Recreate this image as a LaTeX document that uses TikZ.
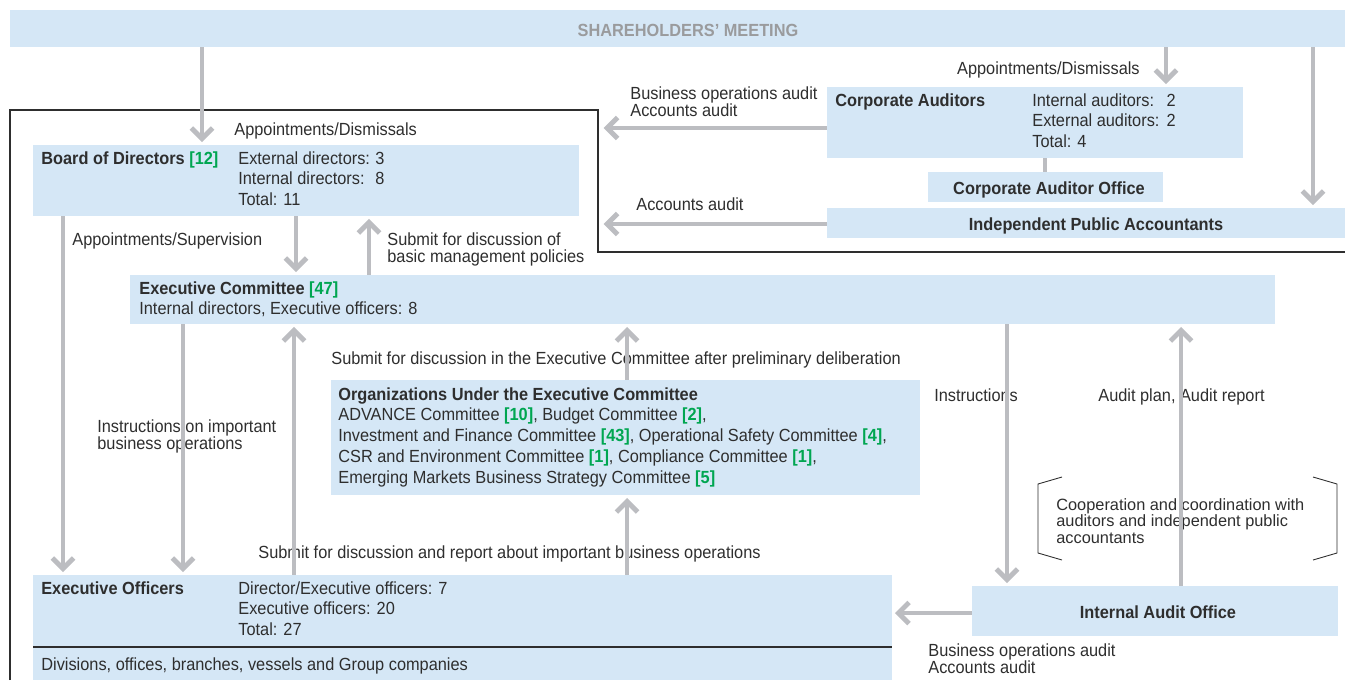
\documentclass[tikz,border=0pt]{standalone}
\usepackage{fontspec}
\usepackage{xcolor}
\setmainfont{Liberation Sans}[FakeStretch = 0.93]
\newfontfamily\plainsans{Liberation Sans}
\usetikzlibrary{arrows.meta}
\usetikzlibrary{fit}
\definecolor{panelblue}{HTML}{D5E7F6}
\definecolor{flowgray}{HTML}{BCBDC1}
\definecolor{inkgray}{HTML}{2E2E2E}
\definecolor{seatgreen}{HTML}{00A651}
\definecolor{headgray}{HTML}{9A9B9D}
\newcommand{\seats}[1]{\textcolor{seatgreen}{\textbf{[#1]}}}
\newcommand{\textlines}[1]{\begin{tabular}[t]{@{}l@{}}#1\end{tabular}}
\tikzset{
panel/.style = {fill = panelblue, draw = none, inner sep = 0pt},
boxtext/.style = {anchor = base west, inner sep = 0pt, text = inkgray, font = \fontsize{10pt}{11.9pt}\selectfont},
flowtext/.style = {boxtext, font = \fontsize{10pt}{9.6pt}\selectfont},
boxtitle/.style = {boxtext, font = \fontsize{10pt}{11.9pt}\selectfont\bfseries},
notetext/.style = {boxtext, font = \plainsans\fontsize{9.3pt}{9.6pt}\selectfont},
flowarrow/.style = {draw = flowgray, line width = 2.8pt, -{Straight Barb[length = 6pt, width = 12pt]}, shorten > = 1.5pt},
flowlink/.style = {draw = flowgray, line width = 2.8pt},
outline/.style = {draw = inkgray, line width = 0.6pt},
bracket/.style = {draw = inkgray, line width = 0.5pt},
}

\begin{document}
\begin{tikzpicture}[x = 0.02cm, y = -0.02cm]
    \useasboundingbox (0, 0) rectangle (1345, 680);
    % boxes
    \node[panel, fit = {(10, 10) (1345, 47)}] (meeting) {};
    \node[panel, fit = {(33, 145) (579, 216)}] (board) {};
    \node[panel, fit = {(827, 87) (1243, 158)}] (auditors) {};
    \node[panel, fit = {(928, 172) (1163, 202)}] (auditoroffice) {};
    \node[panel, fit = {(827, 208) (1345, 238)}] (accountants) {};
    \node[panel, fit = {(130, 275) (1275, 324)}] (excom) {};
    \node[panel, fit = {(331, 380) (920, 495)}] (orgs) {};
    \node[panel, fit = {(33, 575) (892, 680)}] (officers) {};
    \node[panel, fit = {(972, 586) (1338, 636)}] (internalaudit) {};
    \draw[outline] (10, 680) -- (10, 110) -- (598, 110) -- (598, 252) -- (1345, 252);
    \draw[outline] (33, 647) -- (892, 647);
    \draw[bracket] (1062, 477) -- (1038, 484) -- (1038, 553) -- (1062, 560);
    \draw[bracket] (1313, 477) -- (1337, 484) -- (1337, 553) -- (1313, 560);

    % texts in boxes
    \node[boxtitle, anchor = base, text = headgray] (meetingtitle) at (688, 36) {SHAREHOLDERS’ MEETING};
    \node[boxtitle] (boardtitle) at (41, 164) {Board of Directors \seats{12}};
    \node[boxtext] (boardseats) at (238, 164) {\begin{tabular}[t]{@{}l@{\hspace{3pt}}l@{}}
        External directors: & 3\\ Internal directors: & 8\\ \multicolumn{2}{@{}l}{Total: 11}\end{tabular}};
    \node[boxtitle] (auditorstitle) at (835, 106) {Corporate Auditors};
    \node[boxtext] (auditorsseats) at (1032, 106) {\begin{tabular}[t]{@{}l@{\hspace{4pt}}l@{}}
        Internal auditors: & 2\\ External auditors: & 2\\ \multicolumn{2}{@{}l}{Total: 4}\end{tabular}};
    \node[boxtitle, anchor = base] (officetitle) at (1049, 194) {Corporate Auditor Office};
    \node[boxtitle, anchor = base] (accountantstitle) at (1096, 230) {Independent Public Accountants};
    \node[boxtext] (excomtitle) at (139, 294) {\textlines{\textbf{Executive Committee \seats{47}}\\Internal directors, Executive officers: 8}};
    \node[boxtext] (orgslist) at (338, 400) {\textlines{\textbf{Organizations Under the Executive Committee}\\
        ADVANCE Committee \seats{10}, Budget Committee \seats{2},\\
        Investment and Finance Committee \seats{43}, Operational Safety Committee \seats{4},\\
        CSR and Environment Committee \seats{1}, Compliance Committee \seats{1},\\
        Emerging Markets Business Strategy Committee \seats{5}}};
    \node[boxtitle] (officerstitle) at (41, 594) {Executive Officers};
    \node[boxtext] (officersseats) at (238, 594) {\textlines{Director/Executive officers: 7\\Executive officers: 20\\Total: 27}};
    \node[boxtext] (divisions) at (41, 670) {Divisions, offices, branches, vessels and Group companies};
    \node[boxtitle, anchor = base] (audittitle) at (1158, 618) {Internal Audit Office};

    % texts on the flows
    \node[flowtext] (appointboard) at (234, 135) {Appointments/Dismissals};
    \node[flowtext, anchor = base east] (appointauditors) at (1140, 74) {Appointments/Dismissals};
    \node[flowtext] (auditsupper) at (630, 99) {\textlines{Business operations audit\\Accounts audit}};
    \node[flowtext] (accountsaudit) at (636, 210) {Accounts audit};
    \node[flowtext] (supervision) at (72, 245) {Appointments/Supervision};
    \node[flowtext] (policies) at (387, 245) {\textlines{Submit for discussion of\\basic management policies}};
    \node[flowtext] (deliberation) at (331, 364) {Submit for discussion in the Executive Committee after preliminary deliberation};
    \node[flowtext] (instructions) at (934, 401) {Instructions};
    \node[flowtext] (auditplan) at (1098, 401) {Audit plan, Audit report};
    \node[flowtext] (important) at (97, 432) {\textlines{Instructions on important\\business operations}};
    \node[notetext] (cooperation) at (1056, 510) {\textlines{Cooperation and coordination with\\auditors and independent public\\accountants}};
    \node[flowtext] (report) at (258, 558) {Submit for discussion and report about important business operations};
    \node[flowtext] (auditslower) at (928, 656) {\textlines{Business operations audit\\Accounts audit}};

    % flows
    \coordinate (toboard) at (202, 0);
    \coordinate (toauditors) at (1166, 0);
    \coordinate (toaccountants) at (1313, 0);
    \coordinate (officecol) at (1045, 0);
    \coordinate (boardtoexcom) at (296, 0);
    \coordinate (excomtoboard) at (369, 0);
    \coordinate (boardtoofficers) at (63, 0);
    \coordinate (excomtoofficers) at (183, 0);
    \coordinate (officerstoexcom) at (294, 0);
    \coordinate (orgscol) at (627, 0);
    \coordinate (excomtoaudit) at (1007, 0);
    \coordinate (audittoexcom) at (1181, 0);
    \coordinate (auditsend) at (601, 128);
    \coordinate (accountsend) at (601, 224);
    \coordinate (auditrow) at (0, 613);
    \draw[flowarrow] (meeting.south -| toboard) -- (board.north -| toboard);
    \draw[flowarrow] (meeting.south -| toauditors) -- (auditors.north -| toauditors);
    \draw[flowarrow] (meeting.south -| toaccountants) -- (accountants.north -| toaccountants);
    \draw[flowarrow] (auditors.west |- auditsend) -- (auditsend);
    \draw[flowarrow] (accountants.west |- accountsend) -- (accountsend);
    \draw[flowlink] (auditors.south -| officecol) -- (auditoroffice.north -| officecol);
    \draw[flowarrow] (board.south -| boardtoexcom) -- (excom.north -| boardtoexcom);
    \draw[flowarrow] (excom.north -| excomtoboard) -- (board.south -| excomtoboard);
    \draw[flowarrow] (board.south -| boardtoofficers) -- (officers.north -| boardtoofficers);
    \draw[flowarrow] (excom.south -| excomtoofficers) -- (officers.north -| excomtoofficers);
    \draw[flowarrow] (officers.north -| officerstoexcom) -- (excom.south -| officerstoexcom);
    \draw[flowarrow] (orgs.north -| orgscol) -- (excom.south -| orgscol);
    \draw[flowarrow] (officers.north -| orgscol) -- (orgs.south -| orgscol);
    \draw[flowarrow] (excom.south -| excomtoaudit) -- (internalaudit.north -| excomtoaudit);
    \draw[flowarrow] (internalaudit.north -| audittoexcom) -- (excom.south -| audittoexcom);
    \draw[flowarrow] (internalaudit.west |- auditrow) -- (officers.east |- auditrow);
\end{tikzpicture}
\end{document}
